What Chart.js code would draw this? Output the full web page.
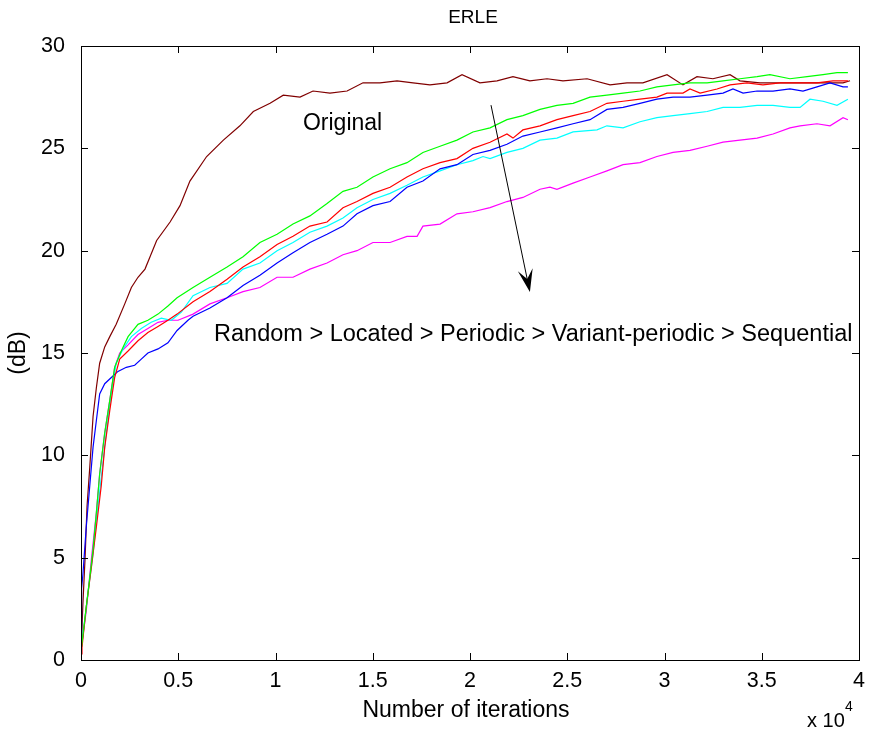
<!DOCTYPE html>
<html>
<head>
<meta charset="utf-8">
<script src="https://cdn.jsdelivr.net/npm/chart.js@4.4.1/dist/chart.umd.min.js"></script>
<style>
  html, body { margin: 0; padding: 0; background: #fff; }
  #erle { display: block; }
</style>
</head>
<body>
<canvas id="erle" width="872" height="736"></canvas>
<script>
// --- DONNÉES (x en unités de 1e4 itérations, y en dB) ---
const xTicks = [0, 0.5, 1, 1.5, 2, 2.5, 3, 3.5, 4];
const yTicks = [0, 5, 10, 15, 20, 25, 30];

const originalX = [0, 0.002, 0.010, 0.021, 0.031, 0.045, 0.062, 0.079, 0.096, 0.122, 0.148, 0.181, 0.225, 0.259, 0.293, 0.329, 0.355, 0.389, 0.458, 0.509, 0.560, 0.646, 0.732, 0.817, 0.886, 0.972, 1.040, 1.126, 1.193, 1.280, 1.368, 1.450, 1.537, 1.625, 1.707, 1.794, 1.882, 1.959, 2.051, 2.139, 2.221, 2.308, 2.396, 2.478, 2.602, 2.720, 2.807, 2.889, 3.013, 3.095, 3.167, 3.249, 3.337, 3.388, 3.491, 3.578, 3.661, 3.748, 3.835, 3.918, 3.954];
const originalY = [0.5, 0.8, 2.8, 5.0, 7.5, 9.4, 11.9, 13.3, 14.5, 15.3, 15.8, 16.4, 17.4, 18.2, 18.7, 19.1, 19.7, 20.5, 21.4, 22.2, 23.4, 24.6, 25.4, 26.1, 26.8, 27.2, 27.6, 27.5, 27.8, 27.7, 27.8, 28.2, 28.2, 28.3, 28.2, 28.1, 28.2, 28.6, 28.2, 28.3, 28.5, 28.3, 28.4, 28.3, 28.4, 28.1, 28.2, 28.2, 28.6, 28.1, 28.5, 28.4, 28.6, 28.3, 28.2, 28.2, 28.2, 28.2, 28.2, 28.2, 28.3];

const randomX = [0, 0.002, 0.036, 0.062, 0.079, 0.096, 0.122, 0.148, 0.173, 0.207, 0.242, 0.293, 0.344, 0.396, 0.447, 0.494, 0.576, 0.663, 0.751, 0.833, 0.920, 1.008, 1.090, 1.177, 1.265, 1.347, 1.419, 1.501, 1.589, 1.676, 1.758, 1.846, 1.933, 2.015, 2.103, 2.190, 2.272, 2.360, 2.447, 2.530, 2.617, 2.704, 2.787, 2.874, 2.961, 3.044, 3.131, 3.219, 3.301, 3.388, 3.476, 3.542, 3.645, 3.733, 3.815, 3.887, 3.943];
const randomY = [0.3, 0.6, 3.3, 5.4, 7.2, 9.1, 11.1, 12.7, 14.3, 15.1, 15.8, 16.4, 16.6, 16.9, 17.3, 17.7, 18.2, 18.7, 19.2, 19.7, 20.4, 20.8, 21.3, 21.7, 22.3, 22.9, 23.1, 23.6, 24.0, 24.3, 24.8, 25.1, 25.4, 25.8, 26.0, 26.4, 26.6, 26.9, 27.1, 27.2, 27.5, 27.6, 27.7, 27.8, 28.0, 28.1, 28.2, 28.2, 28.3, 28.4, 28.5, 28.6, 28.4, 28.5, 28.6, 28.7, 28.7];

const locatedX = [0, 0.005, 0.027, 0.053, 0.079, 0.104, 0.122, 0.148, 0.173, 0.199, 0.242, 0.293, 0.344, 0.396, 0.447, 0.494, 0.576, 0.663, 0.751, 0.833, 0.920, 1.008, 1.090, 1.177, 1.265, 1.347, 1.419, 1.501, 1.589, 1.676, 1.758, 1.846, 1.933, 2.015, 2.103, 2.190, 2.221, 2.272, 2.360, 2.447, 2.530, 2.617, 2.704, 2.787, 2.874, 2.961, 3.013, 3.095, 3.131, 3.183, 3.270, 3.337, 3.424, 3.506, 3.594, 3.681, 3.784, 3.866, 3.943];
const locatedY = [0.3, 0.6, 2.6, 4.5, 6.5, 8.5, 10.4, 12.2, 13.8, 14.7, 15.1, 15.6, 16.0, 16.3, 16.6, 16.9, 17.5, 18.0, 18.6, 19.2, 19.7, 20.3, 20.7, 21.2, 21.4, 22.1, 22.4, 22.8, 23.1, 23.6, 24.0, 24.3, 24.5, 25.0, 25.3, 25.7, 25.5, 25.9, 26.1, 26.4, 26.6, 26.8, 27.2, 27.3, 27.4, 27.5, 27.7, 27.7, 27.9, 27.7, 27.9, 28.1, 28.2, 28.1, 28.2, 28.2, 28.2, 28.3, 28.3];

const periodicX = [0, 0.003, 0.010, 0.027, 0.045, 0.062, 0.079, 0.096, 0.122, 0.156, 0.190, 0.233, 0.276, 0.310, 0.344, 0.396, 0.447, 0.494, 0.550, 0.576, 0.663, 0.751, 0.833, 0.920, 1.008, 1.090, 1.177, 1.265, 1.347, 1.419, 1.501, 1.589, 1.676, 1.758, 1.846, 1.933, 2.015, 2.103, 2.190, 2.272, 2.360, 2.447, 2.530, 2.617, 2.704, 2.787, 2.874, 2.961, 3.044, 3.131, 3.219, 3.301, 3.352, 3.404, 3.476, 3.558, 3.645, 3.712, 3.784, 3.851, 3.918, 3.943];
const periodicY = [1.0, 3.5, 4.2, 6.5, 8.5, 10.4, 11.7, 13.0, 13.5, 13.8, 14.1, 14.3, 14.4, 14.7, 15.0, 15.2, 15.5, 16.1, 16.6, 16.8, 17.2, 17.7, 18.3, 18.8, 19.4, 19.9, 20.4, 20.8, 21.2, 21.8, 22.2, 22.4, 23.1, 23.4, 24.0, 24.2, 24.7, 24.9, 25.2, 25.6, 25.8, 26.0, 26.2, 26.4, 26.9, 27.0, 27.2, 27.4, 27.5, 27.5, 27.6, 27.7, 27.9, 27.7, 27.8, 27.8, 27.9, 27.8, 28.0, 28.2, 28.0, 28.0];

const variantX = [0, 0.002, 0.036, 0.062, 0.079, 0.104, 0.130, 0.156, 0.181, 0.216, 0.259, 0.310, 0.361, 0.413, 0.464, 0.516, 0.576, 0.663, 0.751, 0.833, 0.920, 1.008, 1.090, 1.177, 1.265, 1.347, 1.419, 1.501, 1.589, 1.676, 1.758, 1.846, 1.933, 2.015, 2.067, 2.103, 2.190, 2.272, 2.360, 2.447, 2.530, 2.653, 2.704, 2.787, 2.874, 2.961, 3.044, 3.131, 3.219, 3.301, 3.388, 3.476, 3.558, 3.645, 3.697, 3.748, 3.815, 3.887, 3.943];
const variantY = [0.3, 0.6, 3.3, 5.2, 6.8, 8.9, 11.1, 13.0, 14.5, 15.2, 15.8, 16.2, 16.5, 16.7, 16.6, 17.0, 17.8, 18.2, 18.4, 19.1, 19.4, 20.0, 20.4, 20.9, 21.2, 21.6, 22.1, 22.5, 22.8, 23.2, 23.6, 23.9, 24.2, 24.4, 24.6, 24.5, 24.8, 25.0, 25.4, 25.5, 25.8, 25.9, 26.1, 26.0, 26.3, 26.5, 26.6, 26.7, 26.8, 27.0, 27.0, 27.1, 27.1, 27.0, 27.0, 27.4, 27.3, 27.1, 27.4];

const sequentialX = [0, 0.002, 0.027, 0.053, 0.079, 0.096, 0.122, 0.148, 0.173, 0.199, 0.242, 0.293, 0.344, 0.396, 0.447, 0.499, 0.576, 0.663, 0.751, 0.833, 0.920, 1.008, 1.090, 1.177, 1.265, 1.347, 1.419, 1.501, 1.589, 1.676, 1.728, 1.758, 1.846, 1.933, 2.015, 2.103, 2.190, 2.272, 2.360, 2.411, 2.447, 2.530, 2.617, 2.704, 2.787, 2.874, 2.961, 3.044, 3.131, 3.219, 3.301, 3.388, 3.476, 3.558, 3.645, 3.697, 3.784, 3.851, 3.918, 3.943];
const sequentialY = [0.3, 0.6, 2.4, 4.9, 7.2, 9.1, 11.1, 12.7, 14.3, 15.0, 15.4, 15.9, 16.2, 16.5, 16.6, 16.6, 16.9, 17.4, 17.7, 18.0, 18.2, 18.7, 18.7, 19.1, 19.4, 19.8, 20.0, 20.4, 20.4, 20.7, 20.7, 21.2, 21.3, 21.8, 21.9, 22.1, 22.4, 22.6, 23.0, 23.1, 23.0, 23.3, 23.6, 23.9, 24.2, 24.3, 24.6, 24.8, 24.9, 25.1, 25.3, 25.4, 25.5, 25.7, 26.0, 26.1, 26.2, 26.1, 26.5, 26.4];

const FONT = '"Liberation Sans", Arial, sans-serif';

function toPoints(xs, ys) {
    return xs.map((x, i) => ({ x: x, y: ys[i] }));
}

function serie(label, xs, ys, color) {
    return {
        label: label,
        data: toPoints(xs, ys),
        borderColor: color,
        backgroundColor: "transparent",
        borderWidth: 1.2,
        pointRadius: 0,
        tension: 0
    };
}

// --- CADRE + GRADUATIONS VERS L'INTÉRIEUR + TEXTES (style MATLAB) ---
const matlabFramePlugin = {
    id: 'matlabFrame',
    afterDraw(chart) {
        const ctx = chart.ctx;
        const a = chart.chartArea;
        const sx = chart.scales.x;
        const sy = chart.scales.y;
        const tick = 7;

        ctx.save();
        ctx.strokeStyle = "#000";
        ctx.lineWidth = 1;
        ctx.strokeRect(Math.round(a.left) + 0.5, Math.round(a.top) + 0.5,
            Math.round(a.right - a.left), Math.round(a.bottom - a.top));

        ctx.beginPath();
        xTicks.forEach(v => {
            const px = Math.round(sx.getPixelForValue(v)) + 0.5;
            ctx.moveTo(px, a.bottom); ctx.lineTo(px, a.bottom - tick);
            ctx.moveTo(px, a.top); ctx.lineTo(px, a.top + tick);
        });
        yTicks.forEach(v => {
            const py = Math.round(sy.getPixelForValue(v)) + 0.5;
            ctx.moveTo(a.left, py); ctx.lineTo(a.left + tick, py);
            ctx.moveTo(a.right, py); ctx.lineTo(a.right - tick, py);
        });
        ctx.stroke();

        // Titre et libellés d'axes
        ctx.fillStyle = "#000";
        ctx.textAlign = "center";
        ctx.textBaseline = "middle";
        ctx.font = "19px " + FONT;
        ctx.fillText("ERLE", (a.left + a.right) / 2 + 3, 18);

        ctx.font = "23px " + FONT;
        ctx.fillText("Number of iterations", (a.left + a.right) / 2 - 4, 711);

        ctx.save();
        ctx.translate(19, (a.top + a.bottom) / 2);
        ctx.rotate(-Math.PI / 2);
        ctx.fillText("(dB)", 0, 0);
        ctx.restore();

        // Multiplicateur x 10^4
        ctx.textAlign = "left";
        ctx.font = "20px " + FONT;
        ctx.fillText("x 10", 807, 721);
        ctx.font = "14px " + FONT;
        ctx.fillText("4", 845, 707);

        // Annotations dans le repère des données
        ctx.font = "23px " + FONT;
        ctx.fillText("Original", sx.getPixelForValue(1.141), sy.getPixelForValue(26.23));
        ctx.font = "23.5px " + FONT;
        ctx.fillText("Random > Located > Periodic > Variant-periodic > Sequential",
            sx.getPixelForValue(0.684), sy.getPixelForValue(15.88));

        // Flèche
        const x0 = sx.getPixelForValue(2.108), y0 = sy.getPixelForValue(27.11);
        const x1 = sx.getPixelForValue(2.308), y1 = sy.getPixelForValue(17.98);
        const ang = Math.atan2(y1 - y0, x1 - x0);
        ctx.beginPath();
        ctx.moveTo(x0, y0);
        ctx.lineTo(x1 - 10 * Math.cos(ang), y1 - 10 * Math.sin(ang));
        ctx.stroke();
        const len = 24, half = 0.32;
        ctx.beginPath();
        ctx.moveTo(x1, y1);
        ctx.lineTo(x1 - len * Math.cos(ang - half), y1 - len * Math.sin(ang - half));
        ctx.lineTo(x1 - 0.55 * len * Math.cos(ang), y1 - 0.55 * len * Math.sin(ang));
        ctx.lineTo(x1 - len * Math.cos(ang + half), y1 - len * Math.sin(ang + half));
        ctx.closePath();
        ctx.fill();
        ctx.restore();
    }
};

new Chart(document.getElementById("erle"), {
    type: "line",
    data: {
        datasets: [
            serie("Random", randomX, randomY, "#00ff00"),
            serie("Located", locatedX, locatedY, "#ff0000"),
            serie("Periodic", periodicX, periodicY, "#0000ff"),
            serie("Variant-periodic", variantX, variantY, "#00ffff"),
            serie("Sequential", sequentialX, sequentialY, "#ff00ff"),
            serie("Original", originalX, originalY, "#800000")
        ]
    },
    plugins: [matlabFramePlugin],
    options: {
        responsive: false,
        animation: false,
        events: [],
        layout: { padding: { top: 46, right: 13, left: 0, bottom: 0 } },
        plugins: {
            legend: { display: false },
            tooltip: { enabled: false }
        },
        scales: {
            x: {
                type: "linear",
                min: 0,
                max: 4,
                afterFit: s => { s.height = 76; },
                afterBuildTicks: s => { s.ticks = xTicks.map(v => ({ value: v })); },
                grid: { display: false },
                border: { display: false },
                ticks: {
                    color: "#000",
                    padding: 0,
                    maxRotation: 0,
                    autoSkip: false,
                    font: { family: FONT, size: 21.5 },
                    callback: v => String(v)
                }
            },
            y: {
                type: "linear",
                min: 0,
                max: 30,
                afterFit: s => { s.width = 81; },
                afterBuildTicks: s => { s.ticks = yTicks.map(v => ({ value: v })); },
                grid: { display: false },
                border: { display: false },
                ticks: {
                    color: "#000",
                    padding: 8,
                    autoSkip: false,
                    font: { family: FONT, size: 21.5 },
                    callback: v => String(v)
                }
            }
        }
    }
});
</script>
</body>
</html>
